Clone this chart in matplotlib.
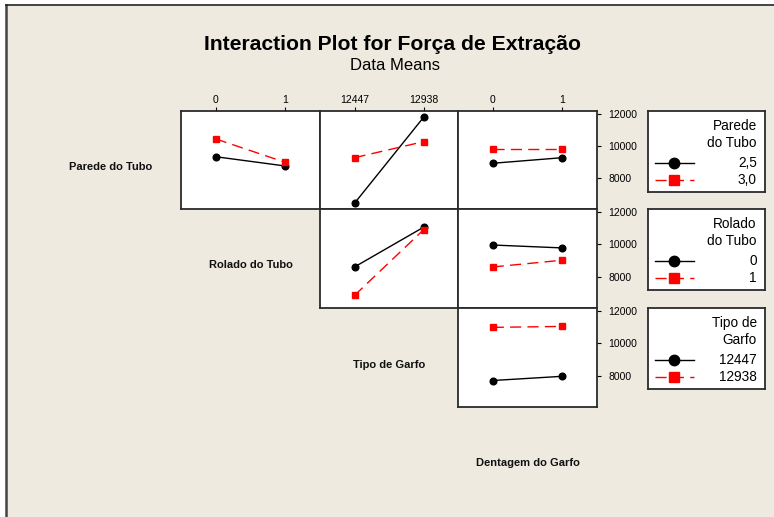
import matplotlib
matplotlib.use('Agg')
import matplotlib.pyplot as plt
from matplotlib.lines import Line2D
from matplotlib.patches import Rectangle
from matplotlib import font_manager

names = {f.name for f in font_manager.fontManager.ttflist}
FONT = 'Liberation Sans' if 'Liberation Sans' in names else 'DejaVu Sans'
plt.rcParams['font.family'] = [FONT, 'DejaVu Sans']

# ---------------- data ----------------
title = 'Interaction Plot for Força de Extração'
subtitle = 'Data Means'
factors = ['Parede do Tubo', 'Rolado do Tubo', 'Tipo de Garfo', 'Dentagem do Garfo']
legend_titles = ['Parede\ndo Tubo', 'Rolado\ndo Tubo', 'Tipo de\nGarfo']
parede_levels = ['2,5', '3,0']
rolado_levels = ['0', '1']
tipo_levels = ['12447', '12938']
dentagem_levels = ['0', '1']
levels = [parede_levels, rolado_levels, tipo_levels, dentagem_levels]

# means: row factor level (series) x column factor level
parede_x_rolado = [[9330, 8750], [10440, 8980]]
parede_x_tipo = [[6420, 11790], [9270, 10270]]
parede_x_dentagem = [[8920, 9270], [9790, 9790]]
rolado_x_tipo = [[8600, 11060], [6840, 10900]]
rolado_x_dentagem = [[9960, 9780], [8600, 9020]]
tipo_x_dentagem = [[7700, 7960], [10990, 11050]]

panels = {
    (0, 1): parede_x_rolado, (0, 2): parede_x_tipo, (0, 3): parede_x_dentagem,
    (1, 2): rolado_x_tipo, (1, 3): rolado_x_dentagem,
    (2, 3): tipo_x_dentagem,
}
y_ticks = [8000, 10000, 12000]
y_lim = (6060, 12190)

# ---------------- layout ----------------
W, H = 774, 517
fig = plt.figure(figsize=(W / 100, H / 100), dpi=100, facecolor='white')
BG = '#EEEAE0'
EDGE = '#2b2b2b'


def box(x0, y0, x1, y1):
    return [x0 / W, 1 - y1 / H, (x1 - x0) / W, (y1 - y0) / H]


fig.patches.append(Rectangle((7 / W, 0), 1, 1 - 6 / H, transform=fig.transFigure,
                             facecolor=BG, edgecolor='none', zorder=-10))
fig.add_artist(Line2D([6 / W, 6 / W], [0, 1 - 5 / H], color='#444444', lw=1.8))
fig.add_artist(Line2D([6 / W, 1], [1 - 5 / H, 1 - 5 / H], color='#222222', lw=1.2))

fig.text(393 / W, 1 - 44 / H, title, ha='center', va='center', fontsize=15.2,
         fontweight='bold', color='black')
fig.text(395 / W, 1 - 66 / H, subtitle, ha='center', va='center', fontsize=12,
         color='black')

col_x = [41, 181, 320, 458, 597]   # column edges, column 0 = label column
row_y = [111, 209, 308, 407, 505]

styles = [dict(color='black', ls='-', marker='o', ms=4.8, lw=1.0),
          dict(color='#FF0000', ls=(0, (8, 4.5)), marker='s', ms=4.8, lw=1.0)]

for (r, c), data in panels.items():
    ax = fig.add_axes(box(col_x[c], row_y[r], col_x[c + 1], row_y[r + 1]))
    ax.set_facecolor('white')
    xs = list(range(len(levels[c])))
    for s, vals in enumerate(data):
        ax.plot(xs, vals, **styles[s], clip_on=False, zorder=3)
    ax.set_xlim(-0.5, 1.5)
    ax.set_ylim(*y_lim)
    for sp in ax.spines.values():
        sp.set_color(EDGE)
        sp.set_linewidth(1.3)
    if r == 0:
        ax.xaxis.tick_top()
        ax.set_xticks(xs)
        ax.set_xticklabels(levels[c])
        ax.tick_params(axis='x', direction='out', length=3, width=0.8,
                       labelsize=7.5, pad=1.5, colors='black')
    else:
        ax.set_xticks([])
    if c == 3:
        ax.yaxis.tick_right()
        ax.set_yticks(y_ticks)
        ax.set_yticklabels([str(t) for t in y_ticks])
        ax.tick_params(axis='y', direction='out', length=3, width=0.8,
                       labelsize=7.5, pad=5, colors='black')
    else:
        ax.set_yticks([])

# diagonal labels
for i, name in enumerate(factors):
    cx = (col_x[i] + col_x[i + 1]) / 2
    cy = (row_y[i] + row_y[i + 1]) / 2 + 7
    fig.text(cx / W, 1 - cy / H, name, ha='center', va='center', fontsize=8,
             fontweight='bold', color='#111111')

# legends
leg_boxes = [(648, 111, 765, 192), (648, 209, 765, 290), (648, 308, 765, 389)]
for i, (x0, y0, x1, y1) in enumerate(leg_boxes):
    lax = fig.add_axes(box(x0, y0, x1, y1))
    lax.set_facecolor('white')
    lax.set_xlim(0, 1)
    lax.set_ylim(0, 1)
    lax.set_xticks([])
    lax.set_yticks([])
    for sp in lax.spines.values():
        sp.set_color(EDGE)
        sp.set_linewidth(1.3)
    lax.text(0.93, 0.715, legend_titles[i], ha='right', va='center', fontsize=9.8,
             linespacing=1.28, transform=lax.transAxes)
    for s, lab in enumerate(levels[i]):
        yy = 0.358 - s * 0.21
        st = dict(styles[s])
        st['ms'] = 7.5 if s == 0 else 7
        lax.plot([0.06, 0.39], [yy, yy], **st, markevery=[], transform=lax.transAxes)
        lax.plot([0.222], [yy], color=st['color'], marker=st['marker'], ms=st['ms'],
                 ls='none', transform=lax.transAxes)
        lax.text(0.93, yy, lab, ha='right', va='center', fontsize=9.8,
                 transform=lax.transAxes)

fig.savefig('out.png', dpi=100, facecolor=fig.get_facecolor())
